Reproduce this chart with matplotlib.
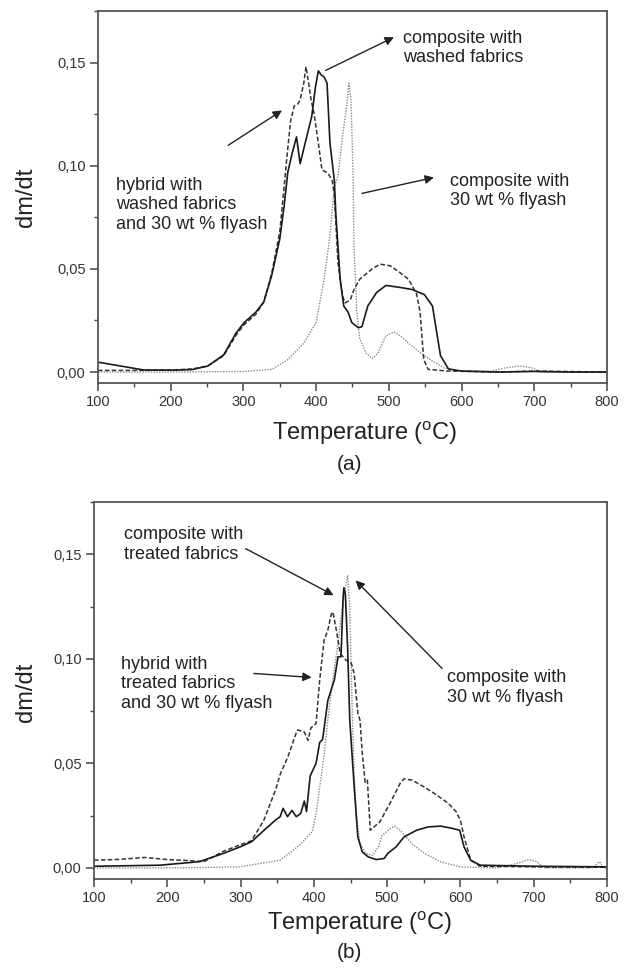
import matplotlib
matplotlib.use("Agg")
import matplotlib.pyplot as plt
from matplotlib.ticker import MultipleLocator, FuncFormatter

plt.rcParams["font.family"] = ["Liberation Sans", "DejaVu Sans"]
plt.rcParams["mathtext.fontset"] = "custom"
plt.rcParams["mathtext.rm"] = "Liberation Sans"

# ---- panel (a): washed fabrics ----
a_solid_t = [100, 130, 163, 200, 229, 251, 273, 290, 301, 317, 328, 339, 350, 356, 361, 367,
             373, 378, 386, 394, 399, 403, 407, 411, 415, 419, 425, 427, 433, 438, 444, 449,
             458, 463, 471, 483, 496, 516, 532, 549, 560, 565, 571, 582, 600, 650, 700, 750, 800]
a_solid_v = [0.0048, 0.003, 0.001, 0.0009, 0.0012, 0.0029, 0.0084, 0.019, 0.024, 0.029, 0.034,
             0.047, 0.0645, 0.0806, 0.0968, 0.106, 0.114, 0.101, 0.1126, 0.124, 0.138, 0.146,
             0.144, 0.143, 0.140, 0.111, 0.093, 0.077, 0.045, 0.032, 0.029, 0.024, 0.0215,
             0.022, 0.032, 0.0385, 0.042, 0.041, 0.040, 0.0375, 0.032, 0.021, 0.008, 0.0015,
             0.0005, 0.0, 0.0003, 0.0, 0.0]

a_dash_t = [100, 150, 200, 230, 251, 273, 290, 301, 317, 328, 339, 350, 356, 360, 365, 370,
            375, 378, 383, 386, 389, 393, 397, 403, 408, 416, 422, 425, 430, 436, 440, 447,
            452, 460, 477, 488, 502, 516, 527, 538, 543, 548, 554, 580, 650, 700, 800]
a_dash_v = [0.0008, 0.0008, 0.001, 0.0015, 0.003, 0.008, 0.018, 0.023, 0.028, 0.034, 0.048,
            0.068, 0.09, 0.105, 0.122, 0.129, 0.130, 0.132, 0.140, 0.148, 0.1416, 0.132,
            0.1255, 0.111, 0.098, 0.0965, 0.093, 0.086, 0.0532, 0.037, 0.0335, 0.035, 0.040,
            0.045, 0.050, 0.0523, 0.0515, 0.048, 0.045, 0.038, 0.029, 0.006, 0.0013, 0.0005,
            0.0, 0.0005, 0.0]

a_dot_t = [100, 200, 300, 339, 361, 383, 400, 411, 419, 425, 430, 437, 443, 445, 448, 451,
           452, 456, 460, 469, 477, 485, 491, 496, 507, 516, 527, 543, 560, 576, 598, 640,
           660, 680, 697, 710, 800]
a_dot_v = [0.0, 0.0, 0.0003, 0.0013, 0.006, 0.014, 0.024, 0.045, 0.066, 0.090, 0.095, 0.116,
           0.132, 0.140, 0.132, 0.092, 0.061, 0.029, 0.016, 0.009, 0.0066, 0.009, 0.014,
           0.0175, 0.0195, 0.0175, 0.014, 0.0094, 0.0053, 0.002, 0.0005, 0.0005, 0.002,
           0.003, 0.002, 0.0, 0.0]

# ---- panel (b): treated fabrics ----
b_solid_t = [100, 190, 244, 277, 299, 315, 332, 348, 354, 358, 364, 370, 376, 382, 387, 390,
             395, 403, 408, 412, 419, 428, 433, 437, 440, 441, 443, 446, 449, 455, 460, 466,
             474, 485, 496, 501, 512, 523, 540, 556, 573, 589, 599, 605, 614, 627, 700, 800]
b_solid_v = [0.0008, 0.0013, 0.003, 0.007, 0.010, 0.0125, 0.018, 0.023, 0.0245, 0.0285,
             0.0245, 0.0275, 0.0245, 0.026, 0.032, 0.027, 0.044, 0.050, 0.060, 0.0615, 0.080,
             0.090, 0.101, 0.101, 0.130, 0.134, 0.131, 0.106, 0.0706, 0.039, 0.0148, 0.0077,
             0.0053, 0.004, 0.0045, 0.007, 0.010, 0.0148, 0.018, 0.0196, 0.020, 0.0189, 0.018,
             0.010, 0.0037, 0.0013, 0.0008, 0.0005]

b_dash_t = [100, 130, 170, 200, 230, 250, 277, 299, 315, 332, 348, 354, 365, 376, 378, 387,
            392, 396, 403, 408, 414, 419, 424, 426, 430, 436, 444, 451, 455, 460, 463, 466,
            470, 473, 477, 482, 490, 504, 518, 523, 534, 551, 567, 583, 594, 600, 605, 614,
            627, 700, 800]
b_dash_v = [0.0037, 0.004, 0.005, 0.004, 0.0035, 0.003, 0.008, 0.011, 0.013, 0.023, 0.0376,
            0.0447, 0.0535, 0.0646, 0.066, 0.065, 0.061, 0.067, 0.069, 0.090, 0.109, 0.1136,
            0.1216, 0.1224, 0.115, 0.1025, 0.0993, 0.098, 0.093, 0.074, 0.0706, 0.055, 0.041,
            0.042, 0.018, 0.0196, 0.022, 0.031, 0.0406, 0.0426, 0.042, 0.0386, 0.035, 0.031,
            0.027, 0.0227, 0.0148, 0.0037, 0.0008, 0.0005, 0.0003]

b_dot_t = [100, 200, 299, 354, 381, 398, 403, 414, 419, 425, 432, 438, 443, 446, 449, 452,
           455, 458, 463, 471, 480, 488, 493, 504, 510, 518, 534, 551, 573, 600, 650, 676,
           693, 704, 715, 780, 790, 795, 800]
b_dot_v = [0.0, 0.0, 0.0005, 0.0037, 0.011, 0.0175, 0.026, 0.054, 0.0706, 0.088, 0.105, 0.122,
           0.134, 0.140, 0.125, 0.080, 0.045, 0.025, 0.0116, 0.0069, 0.006, 0.010, 0.0155,
           0.0187, 0.020, 0.018, 0.0115, 0.0069, 0.0029, 0.0005, 0.0, 0.002, 0.004, 0.003,
           0.0, 0.0, 0.003, 0.0, 0.0]

# annotations: text, text pos (T, v), arrow tail, arrow head
a_notes = [
    ("composite with\nwashed fabrics", (519, 0.1571), (413, 0.1462), (507, 0.1623)),
    ("hybrid with\nwashed fabrics\nand 30 wt % flyash", (125, 0.0810), (279, 0.1099), (353, 0.1268)),
    ("composite with\n30 wt % flyash", (584, 0.0877), (463, 0.0866), (562, 0.0943)),
]
b_notes = [
    ("composite with\ntreated fabrics", (141, 0.1546), (307, 0.1527), (427, 0.1304)),
    ("composite with\n30 wt % flyash", (582, 0.0862), (575, 0.0954), (457, 0.1375)),
    ("hybrid with\ntreated fabrics\nand 30 wt % flyash", (137, 0.0880), (318, 0.0930), (397, 0.0911)),
]

W, H = 628, 973
fig = plt.figure(figsize=(W / 100, H / 100), dpi=100)


def px_axes(left, top, right, bottom):
    return fig.add_axes([left / W, 1 - bottom / H, (right - left) / W, (bottom - top) / H])


def draw_panel(ax, solid, dash, dot, notes):
    ax.plot(dot[0], dot[1], color="#8a8a8a", lw=1.0, ls=(0, (1, 1)))
    ax.plot(dash[0], dash[1], color="#333333", lw=1.1, ls=(0, (3, 1.5)))
    ax.plot(solid[0], solid[1], color="#1a1a1a", lw=1.2)
    ax.set_xlim(100, 800)
    ax.set_ylim(-0.0053, 0.175)
    ax.xaxis.set_major_locator(MultipleLocator(100))
    ax.xaxis.set_minor_locator(MultipleLocator(50))
    ax.yaxis.set_major_locator(MultipleLocator(0.05))
    ax.yaxis.set_minor_locator(MultipleLocator(0.025))
    ax.yaxis.set_major_formatter(FuncFormatter(lambda v, p: f"{v:.2f}".replace(".", ",")))
    ax.tick_params(which="major", direction="out", length=6, width=1.1, color="#444444",
                   labelsize=10.5, labelcolor="#333333", pad=3)
    ax.tick_params(which="minor", direction="out", length=3, width=1.0, color="#444444")
    ax.tick_params(top=False, right=False)
    for s in ax.spines.values():
        s.set_color("#555555")
        s.set_linewidth(1.3)
    for text, pos, tail, head in notes:
        ax.text(pos[0], pos[1], text, fontsize=13, color="#222222", va="center", ha="left",
                linespacing=1.2)
        ax.annotate("", xy=head, xytext=tail,
                    arrowprops=dict(arrowstyle="-|>", color="#222222", lw=1.0,
                                    mutation_scale=13, shrinkA=0, shrinkB=0))


ax_a = px_axes(98, 11, 607, 383)
draw_panel(ax_a, (a_solid_t, a_solid_v), (a_dash_t, a_dash_v), (a_dot_t, a_dot_v), a_notes)
ax_b = px_axes(94, 502, 607, 879)
draw_panel(ax_b, (b_solid_t, b_solid_v), (b_dash_t, b_dash_v), (b_dot_t, b_dot_v), b_notes)

xlabel = r"Temperature ($\mathregular{^o}$C)"
for cx, cy, cap_y, cap, ly in [(365, 433, 464, "(a)", 197), (360, 923, 953, "(b)", 692)]:
    fig.text(cx / W, 1 - cy / H, xlabel, fontsize=17, ha="center", va="center", color="#222222")
    fig.text(349 / W, 1 - cap_y / H, cap, fontsize=15, ha="center", va="center", color="#222222")
    fig.text(26 / W, 1 - ly / H, "dm/dt", fontsize=17, ha="center", va="center",
             rotation=90, color="#222222")

fig.savefig("out.png", dpi=100)
